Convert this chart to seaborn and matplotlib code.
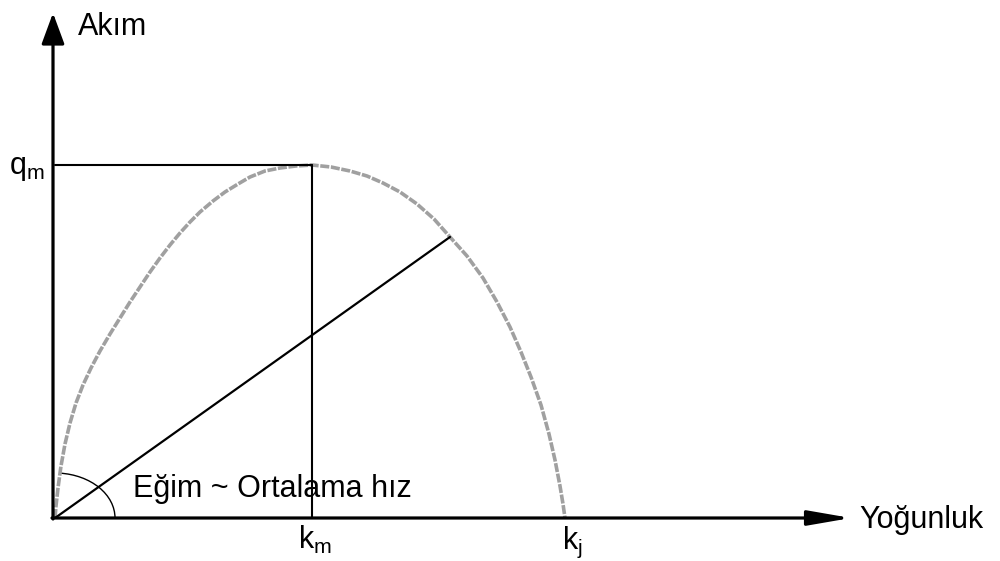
import matplotlib
matplotlib.use("Agg")
import matplotlib.pyplot as plt
from matplotlib.patches import Arc
import pandas as pd
import seaborn as sns

# Flow-density (akım-yoğunluk) diagram values, in drawing units
density = [0, 1, 3, 6, 10, 15, 21, 28, 36, 45, 55, 65, 75, 85, 95, 105, 115, 125,
           135, 145, 158, 170, 183, 195, 210, 225, 241, 257, 276, 295, 312, 328,
           345, 362, 379, 395, 412, 428, 442, 455, 466, 476, 486, 494, 500, 505,
           508, 510]
flow = [0, 12, 30, 52, 74, 95, 115, 133, 150, 167, 184, 200, 216, 231, 246, 260,
        273, 285, 296, 306, 317, 326, 334, 341, 347, 350, 352, 353, 351, 347, 342,
        335, 326, 314, 299, 281, 262, 240, 216, 191, 166, 141, 113, 84, 58, 32,
        14, 0]

k_m = 257        # density at capacity
k_j = 510        # jam density
q_m = 353        # maximum flow
speed_point = (395, 281)   # point on curve defining mean speed slope

axis_labels = ["Akım", "Yoğunluk"]
point_labels = [r"$\mathregular{q_m}$", r"$\mathregular{k_m}$", r"$\mathregular{k_j}$"]
slope_label = "Eğim ~ Ortalama hız"

sns.set_theme(style="white")
plt.rcParams["font.family"] = ["Liberation Sans", "DejaVu Sans"]
plt.rcParams["text.color"] = "black"

fig = plt.figure(figsize=(10, 5.61), dpi=100)
ax = fig.add_axes([0, 0, 1, 1])
ax.set_xlim(-55, 945)
ax.set_ylim(-43, 518)
ax.axis("off")

curve = pd.DataFrame({"k": density, "q": flow})
sns.lineplot(data=curve, x="k", y="q", sort=False, ax=ax, color="#a0a0a0",
             linewidth=2.6, linestyle=(0, (2.5, 0.45)), zorder=2)

# Coordinate axes with arrowheads
ax.annotate("", xy=(-2, 505), xytext=(-2, -1),
            arrowprops=dict(arrowstyle="-|>,head_length=19,head_width=7",
                            mutation_scale=1, lw=2.3, color="black",
                            shrinkA=0, shrinkB=0))
ax.annotate("", xy=(796, 0), xytext=(-3, 0),
            arrowprops=dict(arrowstyle="-|>,head_length=26,head_width=4.5",
                            mutation_scale=1, lw=2.3, color="black",
                            shrinkA=0, shrinkB=0))

# Capacity guide lines
ax.plot([0, k_m], [q_m, q_m], color="black", lw=1.5, zorder=3)
ax.plot([k_m, k_m], [q_m, 0], color="black", lw=1.5, zorder=3)

# Mean speed ray
ax.plot([0, speed_point[0]], [0, speed_point[1]], color="black", lw=1.6, zorder=3)
ax.add_patch(Arc((0, 0), 120, 90, theta1=0, theta2=84, color="black", lw=1.0))

fs = 22
ax.text(23, 483, axis_labels[0], fontsize=fs, ha="left", va="baseline")
ax.text(804, -10, axis_labels[1], fontsize=fs, ha="left", va="baseline")
ax.text(-10, q_m - 9, point_labels[0], fontsize=fs, ha="right", va="baseline")
ax.text(k_m + 3, -31, point_labels[1], fontsize=fs, ha="center", va="baseline")
ax.text(k_j + 7, -31, point_labels[2], fontsize=fs, ha="center", va="baseline")
ax.text(78, 21, slope_label, fontsize=fs, ha="left", va="baseline")

fig.savefig("out.png", dpi=100, facecolor="white")
